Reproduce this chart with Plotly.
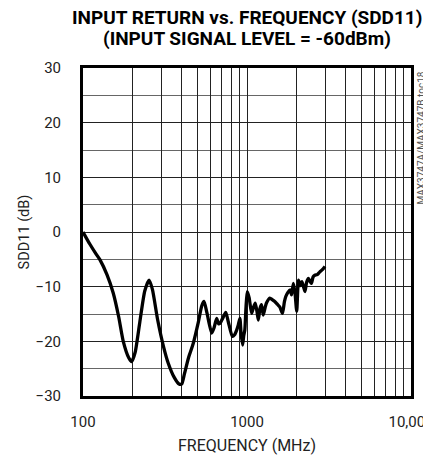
import plotly.graph_objects as go

freq_mhz = [100, 110, 120, 127, 140, 153, 165, 176, 190, 198, 208, 222, 238, 253, 265, 285, 310, 331,
            360, 385, 400, 415, 440, 470, 505, 530, 547, 570, 609, 630, 653, 670, 685, 710, 742, 770,
            814, 840, 866, 885, 905, 920, 940, 955, 970, 985, 1003, 1030, 1067, 1095, 1122, 1150, 1172,
            1200, 1226, 1256, 1290, 1314, 1378, 1430, 1477, 1530, 1584, 1645, 1690, 1724, 1780, 1830,
            1870, 1918, 1960, 2010, 2060, 2110, 2160, 2210, 2257, 2310, 2370, 2420, 2470, 2530, 2590,
            2680, 2780, 2880, 2990]
sdd11_db = [0, -2.2, -4.0, -5.1, -7.8, -11.2, -15.5, -20.0, -23.0, -23.7, -22.0, -16.5, -10.8, -8.8,
            -10.5, -16.0, -21.0, -24.0, -26.6, -27.8, -27.8, -26.0, -23.0, -20.4, -16.5, -13.5, -12.7,
            -14.8, -18.5, -17.5, -15.8, -16.8, -16.7, -15.8, -14.7, -16.5, -19.1, -18.8, -17.9, -17.0,
            -15.8, -18.5, -20.7, -19.0, -17.9, -14.0, -10.9, -12.0, -14.9, -13.8, -13.0, -14.5, -16.1,
            -14.0, -13.3, -15.2, -13.8, -13.0, -12.1, -12.4, -12.7, -13.2, -13.7, -14.9, -12.8, -11.8,
            -11.0, -10.6, -11.5, -9.4, -11.0, -14.5, -8.8, -9.8, -9.1, -10.0, -10.9, -9.2, -8.5, -9.0,
            -9.4, -8.2, -7.9, -7.8, -7.3, -6.9, -6.3]

x_grid = [100, 200, 300, 400, 500, 600, 700, 800, 900, 1000, 2000, 3000, 4000, 5000, 6000, 7000,
          8000, 9000, 10000]
x_labels = {100: "100", 1000: "1000", 10000: "10,000"}
y_ticks = [-30, -20, -10, 0, 10, 20, 30]
title_lines = ["INPUT RETURN vs. FREQUENCY (SDD11)", "(INPUT SIGNAL LEVEL = -60dBm)"]

FONT = "Roboto, Liberation Sans, sans-serif"

fig = go.Figure()
fig.add_trace(go.Scatter(x=freq_mhz, y=sdd11_db, mode="lines",
                         line=dict(color="black", width=3.3, shape="spline", smoothing=0.6),
                         showlegend=False, hoverinfo="skip"))

# page body has an 8px margin, so the figure is 8px smaller than the window
fig.update_layout(
    width=423, height=447,
    margin=dict(l=75, r=20, t=60, b=59, autoexpand=False),
    paper_bgcolor="white", plot_bgcolor="white",
    font=dict(family=FONT, size=14, color="#222"),
)
fig.update_xaxes(
    type="log", range=[2, 4],
    tickvals=x_grid, ticktext=[x_labels.get(v, "") for v in x_grid],
    ticks="", ticklabelstandoff=10, tickfont=dict(size=15), ticklabeloverflow="allow",
    showgrid=True, gridcolor="#222", gridwidth=1,
    showline=True, linecolor="black", linewidth=3, mirror=True,
    title=dict(text="FREQUENCY (MHz)", standoff=13, font=dict(size=16, color="#222")),
    zeroline=False, automargin=False,
)
fig.update_yaxes(
    range=[-30, 30], tickvals=y_ticks, ticks="", ticklabelstandoff=16, tickfont=dict(size=15),
    showgrid=True, gridcolor="#222", gridwidth=1,
    minor=dict(dtick=5, tick0=0, showgrid=True, gridcolor="#666", gridwidth=1),
    showline=True, linecolor="black", linewidth=3, mirror=True,
    title=dict(text="SDD11 (dB)", standoff=3, font=dict(size=14.5, color="#222")),
    zeroline=False, automargin=False,
)
for line, yp in zip(title_lines, [1.154, 1.090]):
    fig.add_annotation(text="<b>" + line + "</b>", xref="paper", yref="paper",
                       x=0.5, y=yp, xanchor="center", yanchor="middle", showarrow=False,
                       font=dict(family=FONT, size=19, color="black"))
fig.add_annotation(text="MAX3747A/MAX3747B toc18", xref="paper", yref="paper",
                   x=1, y=1, xanchor="center", yanchor="top", xshift=10, yshift=-2,
                   textangle=-90, showarrow=False,
                   font=dict(family=FONT, size=10, color="#555"))

fig.write_html("out.html")
